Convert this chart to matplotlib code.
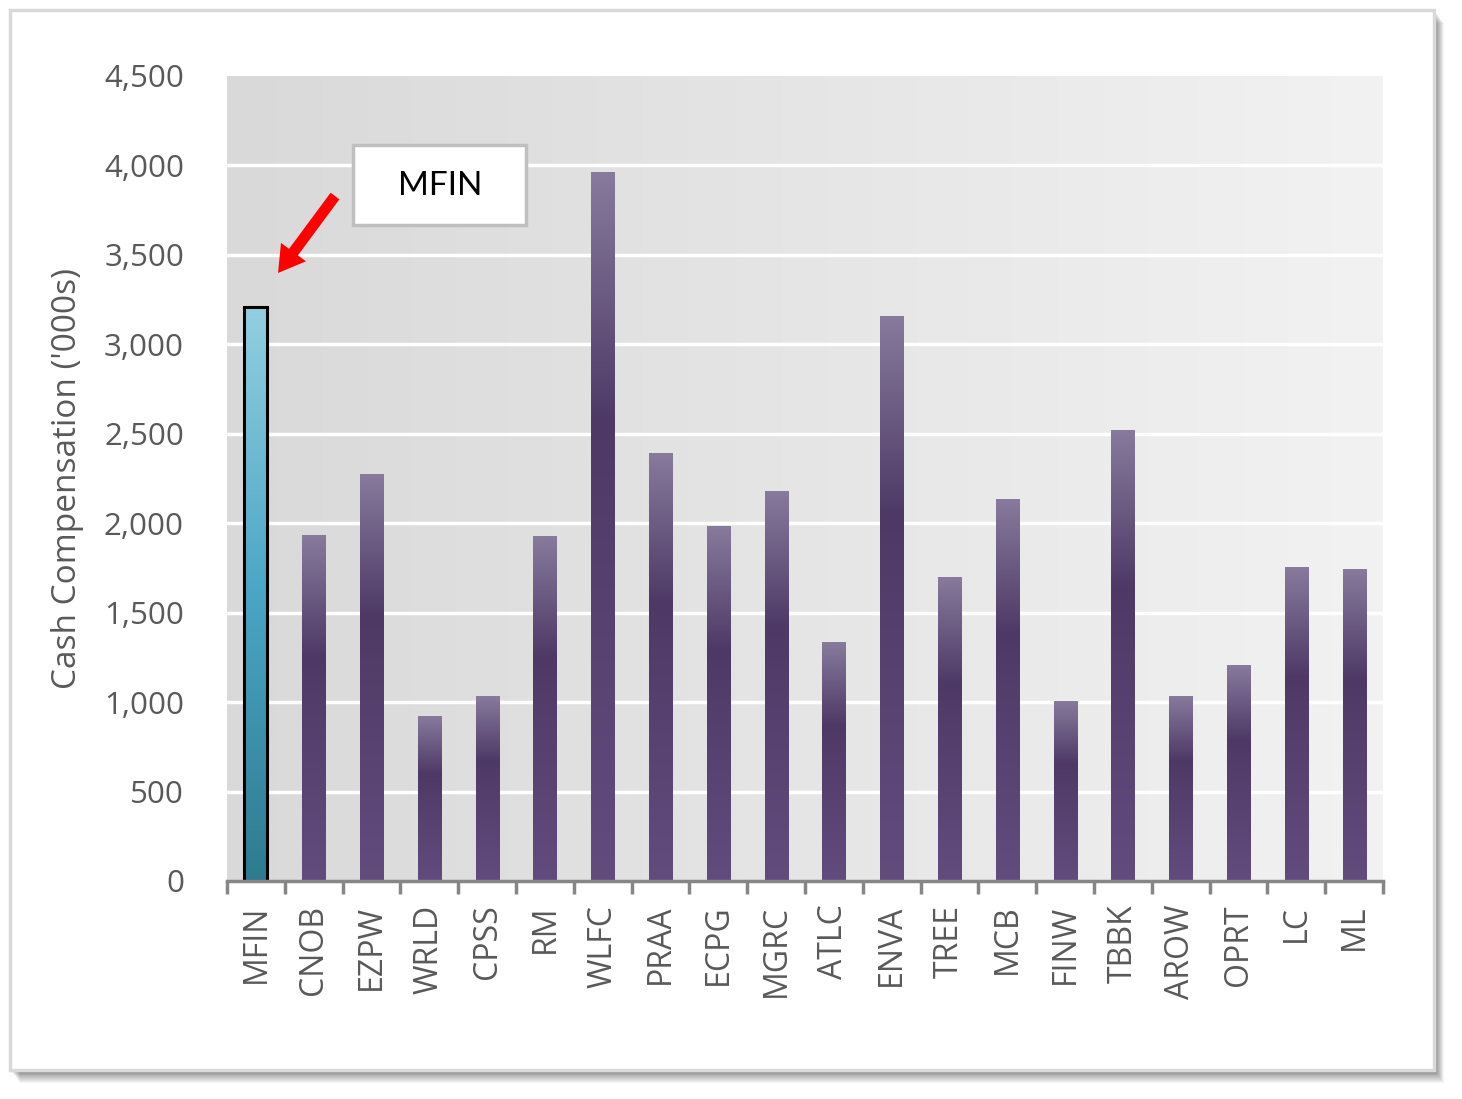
import numpy as np
import matplotlib
matplotlib.use('Agg')
from matplotlib import pyplot as plt
from matplotlib.colors import LinearSegmentedColormap
from matplotlib.patches import Rectangle, FancyArrow

# data
tickers = ['MFIN', 'CNOB', 'EZPW', 'WRLD', 'CPSS', 'RM', 'WLFC', 'PRAA', 'ECPG', 'MGRC',
           'ATLC', 'ENVA', 'TREE', 'MCB', 'FINW', 'TBBK', 'AROW', 'OPRT', 'LC', 'ML']
cash_comp = [3210, 1934, 2270, 917, 1034, 1923, 3958, 2387, 1984, 2175,
             1336, 3153, 1699, 2135, 1006, 2521, 1034, 1207, 1755, 1744]
y_ticks = [0, 500, 1000, 1500, 2000, 2500, 3000, 3500, 4000, 4500]
highlight = 'MFIN'

plt.rcParams['font.family'] = ['Open Sans', 'DejaVu Sans']

fig = plt.figure(figsize=(14.62, 10.99), dpi=100)

# outer frame with a soft shadow
W, H = 1462, 1099
for k in range(14, 0, -1):
    fig.patches.append(Rectangle(((10 + k * 0.7) / W, (1099 - 1070 - k * 0.9) / H),
                                 1424 / W, 1060 / H, transform=fig.transFigure,
                                 facecolor='black', alpha=0.04, edgecolor='none', zorder=0))
fig.patches.append(Rectangle((10 / W, (1099 - 1070) / H), 1424 / W, 1060 / H,
                             transform=fig.transFigure, facecolor='white',
                             edgecolor='#d9d9d9', linewidth=2.5, zorder=1))

ax = fig.add_axes([227 / W, (1099 - 881) / H, (1383 - 227) / W, 805 / H])
ax.set_zorder(2)
ax.patch.set_alpha(0)

n = len(tickers)
x = np.arange(n)

# background: horizontal grey gradient
bg = np.linspace(0, 1, 256).reshape(1, -1)
bg_cmap = LinearSegmentedColormap.from_list('bg', ['#d9d9d9', '#f2f2f2'])
ax.imshow(bg, cmap=bg_cmap, extent=[-0.5, n - 0.5, 0, 4500], aspect='auto', zorder=0)

for yt in y_ticks[1:-1]:
    ax.axhline(yt, color='white', linewidth=2.5, zorder=1)

purple = LinearSegmentedColormap.from_list('purple', [(0, '#624c7e'), (0.65, '#4e3966'), (1, '#877a9c')])
blue = LinearSegmentedColormap.from_list('blue', ['#2e7b8f', '#4aa6c4', '#93cfe0'])
grad = np.linspace(0, 1, 256).reshape(-1, 1)
bw = 0.4
for xi, val, t in zip(x, cash_comp, tickers):
    cm = blue if t == highlight else purple
    ax.imshow(grad, cmap=cm, origin='lower', extent=[xi - bw / 2, xi + bw / 2, 0, val],
              aspect='auto', zorder=2)
    if t == highlight:
        ax.bar(xi, val, width=bw, facecolor='none', edgecolor='black', linewidth=2.2, zorder=3)
ax.set_aspect('auto')
ax.set_xlim(-0.5, n - 0.5)
ax.set_ylim(0, 4500)

for s in ['top', 'right', 'left']:
    ax.spines[s].set_visible(False)
ax.spines['bottom'].set_color('#868686')
ax.spines['bottom'].set_linewidth(2.5)
ax.spines['bottom'].set_zorder(4)

ax.set_yticks(y_ticks)
ax.set_yticklabels([f'{v:,}' for v in y_ticks])
ax.tick_params(axis='y', length=0, pad=31, labelsize=22.5, labelcolor='#595959')

ax.set_xticks(np.arange(n + 1) - 0.5, minor=False)
ax.set_xticklabels([])
ax.tick_params(axis='x', which='major', length=9, width=2.5, color='#868686', direction='out')
ax.set_xticks(x, minor=True)
ax.set_xticklabels(tickers, minor=True, rotation=90)
ax.tick_params(axis='x', which='minor', length=0, pad=17, labelsize=23, labelcolor='#595959')

ax.set_ylabel("Cash Compensation ('000s)", fontsize=24, color='#595959', labelpad=14)

# callout for the highlighted company
fig.patches.append(Rectangle((353 / W, 1 - 225 / H), 173 / W, 80 / H, transform=fig.transFigure,
                             facecolor='white', edgecolor='#bfbfbf', linewidth=2.5, zorder=4))
ax_arrow = fig.add_axes([0, 0, 1, 1], zorder=5)
ax_arrow.set_xlim(0, W)
ax_arrow.set_ylim(H, 0)
ax_arrow.axis('off')
ax_arrow.patch.set_alpha(0)
ax_arrow.add_patch(FancyArrow(335, 196, -57, 77, width=11, head_width=31, head_length=26,
                              length_includes_head=True, color='#ff0000', linewidth=0))
ax_arrow.text(440, 186, highlight, fontsize=24, color='black', ha='center', va='center',
              family=['Lato', 'DejaVu Sans'])

fig.savefig('out.png', dpi=100)
